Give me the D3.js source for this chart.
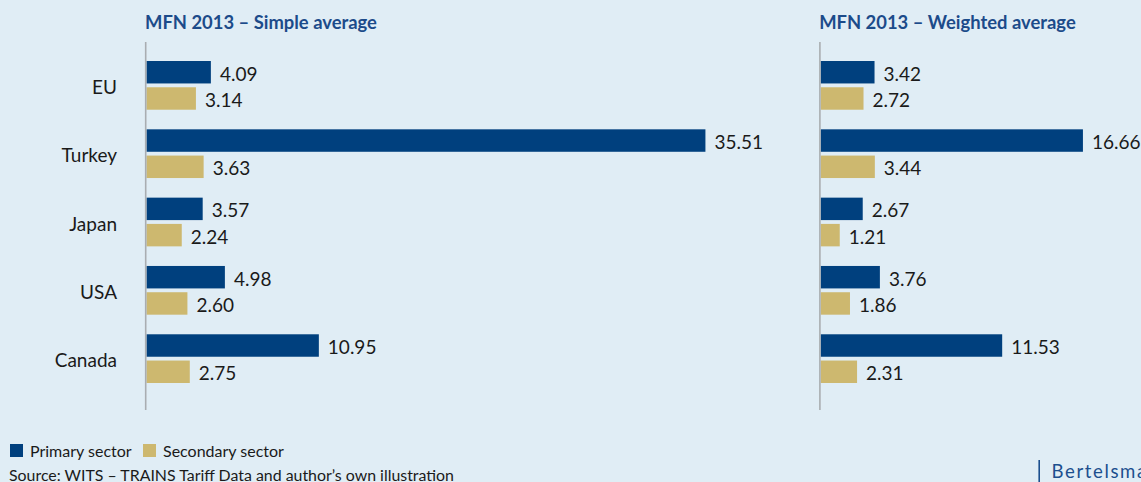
<!DOCTYPE html>
<html>
<head>
<meta charset="utf-8">
<script src="https://cdn.jsdelivr.net/npm/d3@7"></script>
<style>
  html, body { margin: 0; padding: 0; background: #e0edf5; overflow: hidden; }
  svg { display: block; font-family: Lato, "Open Sans", sans-serif; }
</style>
</head>
<body>
<svg id="chart" width="1141" height="482"></svg>
<script>
// MFN tariff averages 2013, by sector
const categories = ["EU", "Turkey", "Japan", "USA", "Canada"];
const seriesNames = ["Primary sector", "Secondary sector"];
const simplePrimary   = [4.09, 35.51, 3.57, 4.98, 10.95];
const simpleSecondary = [3.14, 3.63, 2.24, 2.60, 2.75];
const weightedPrimary   = [3.42, 16.66, 2.67, 3.76, 11.53];
const weightedSecondary = [2.72, 3.44, 1.21, 1.86, 2.31];
const panelTitles = ["MFN 2013 – Simple average", "MFN 2013 – Weighted average"];
const sourceNote = "Source: WITS – TRAINS Tariff Data and author’s own illustration";
const brand = "Bertelsmann Stiftung";

const colors = { "Primary sector": "#00407e", "Secondary sector": "#cdb86f" };
const svg = d3.select("#chart");

svg.append("rect").attr("width", 1141).attr("height", 482).attr("fill", "#e0edf5");

// shared vertical layout
const y = d3.scaleBand().domain(categories).range([61, 383]).paddingInner(0.287).paddingOuter(0);
const ySub = d3.scaleBand().domain(seriesNames).range([0, y.bandwidth()]).paddingInner(0.145);

// same px-per-unit in both panels
const pxPerUnit = 15.74;

function panel(x0, title, primary, secondary, showCategories) {
  const maxV = d3.max(primary.concat(secondary));
  const x = d3.scaleLinear().domain([0, maxV]).range([x0, x0 + maxV * pxPerUnit]);
  const g = svg.append("g");

  g.append("text")
    .attr("x", x0 - 1.5).attr("y", 28.5)
    .attr("font-size", 18.4).attr("font-weight", 700)
    .attr("fill", "#1c4b8a")
    .text(title);

  const rows = categories.map((c, i) => ({ cat: c, values: [
    { s: seriesNames[0], v: primary[i] },
    { s: seriesNames[1], v: secondary[i] }
  ]}));

  const row = g.selectAll("g.row").data(rows).join("g")
    .attr("class", "row")
    .attr("transform", d => `translate(0,${y(d.cat)})`);

  row.selectAll("rect").data(d => d.values).join("rect")
    .attr("x", x(0))
    .attr("y", d => ySub(d.s))
    .attr("width", d => x(d.v) - x(0))
    .attr("height", ySub.bandwidth())
    .attr("fill", d => colors[d.s]);

  row.selectAll("text.val").data(d => d.values).join("text")
    .attr("class", "val")
    .attr("x", d => x(d.v) + 9)
    .attr("y", d => ySub(d.s) + ySub.bandwidth() / 2 + 8.5)
    .attr("font-size", 19)
    .attr("fill", "#1a1a1a")
    .text(d => d3.format(".2f")(d.v));

  if (showCategories) {
    g.selectAll("text.cat").data(categories).join("text")
      .attr("class", "cat")
      .attr("x", 117)
      .attr("y", c => y(c) + y.bandwidth() / 2 + 8.6)
      .attr("text-anchor", "end")
      .attr("font-size", 19)
      .attr("fill", "#1a1a1a")
      .text(c => c);
  }

  // baseline axis
  g.append("line")
    .attr("x1", x0 - 0.8).attr("x2", x0 - 0.8)
    .attr("y1", 42).attr("y2", 410)
    .attr("stroke", "#a9adb1").attr("stroke-width", 1.6);
}

panel(146.5, panelTitles[0], simplePrimary, simpleSecondary, true);
panel(820.7, panelTitles[1], weightedPrimary, weightedSecondary, false);

// legend
const legendX = [10, 143];
const lg = svg.selectAll("g.legend").data(seriesNames).join("g")
  .attr("class", "legend")
  .attr("transform", (d, i) => `translate(${legendX[i]},444)`);
lg.append("rect").attr("width", 13).attr("height", 13).attr("fill", d => colors[d]);
lg.append("text").attr("x", 20).attr("y", 12.5)
  .attr("font-size", 16).attr("fill", "#1a1a1a").text(d => d);

svg.append("text").attr("x", 9).attr("y", 480.5)
  .attr("font-size", 15.9).attr("fill", "#1a1a1a").text(sourceNote);

// brand mark
svg.append("line").attr("x1", 1039.2).attr("x2", 1039.2).attr("y1", 460).attr("y2", 482)
  .attr("stroke", "#1c4f8e").attr("stroke-width", 1.6);
svg.append("text").attr("x", 1051.5).attr("y", 477.7)
  .attr("font-size", 18.6).attr("letter-spacing", 1.6).attr("fill", "#1c4f8e").text(brand);
</script>
</body>
</html>
